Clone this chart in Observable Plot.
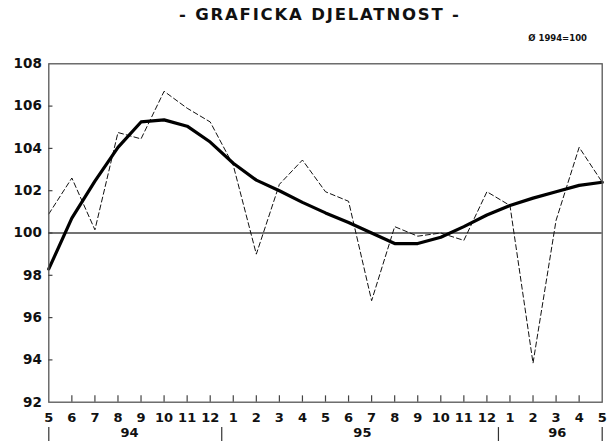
<!DOCTYPE html>
<html><head><meta charset="utf-8">
<script src="https://cdn.jsdelivr.net/npm/d3@7"></script>
<script src="https://cdn.jsdelivr.net/npm/@observablehq/plot@0.6"></script>
<style>
body{margin:0;background:#fff;}
#wrap{width:610px;font-family:"DejaVu Sans",sans-serif;color:#111;}
#head{position:relative;height:50px;}
#title{position:absolute;left:179px;top:5px;white-space:nowrap;font-weight:bold;font-size:16.5px;letter-spacing:1.8px;}
#sub{position:absolute;right:23px;top:33px;white-space:nowrap;font-weight:bold;font-size:8.5px;}
</style></head>
<body><div id="wrap"><div id="head"><div id="title">- GRAFICKA DJELATNOST -</div><div id="sub">Ø 1994=100</div></div><div id="chart"></div></div>
<script>
const months = ["5","6","7","8","9","10","11","12","1","2","3","4","5","6","7","8","9","10","11","12","1","2","3","4","5"];
const original = [100.9,102.6,100.15,104.75,104.45,106.7,105.9,105.25,103.2,99.0,102.3,103.45,101.95,101.5,96.8,100.3,99.85,100.0,99.65,101.95,101.3,93.85,100.6,104.05,102.4];
const trend = [98.3,100.7,102.45,104.05,105.25,105.35,105.05,104.3,103.3,102.5,102.0,101.45,100.95,100.5,100.0,99.5,99.5,99.8,100.3,100.85,101.3,101.65,101.95,102.25,102.4];
const yTicks = [92,94,96,98,100,102,104,106,108];
const years = ["94","95","96"];
const yearPos = [3.5,13.6,22.05];
const yearSeps = [0,7.5,19.5,24];
const baseLine = [100];

const idx = d3.range(months.length);
const origData = idx.map(i => ({i, v: original[i]}));
const trendData = idx.map(i => ({i, v: trend[i]}));

const chart = Plot.plot({
  width: 610, height: 391,
  marginTop: 13.3, marginBottom: 39.3, marginLeft: 48.3, marginRight: 8.3,
  x: {domain: [0, 24]},
  y: {domain: [92, 108]},
  style: {fontFamily: '"DejaVu Sans", sans-serif', fontSize: "13px", fontWeight: "bold", color: "#111", background: "#fff", overflow: "visible"},
  marks: [
    Plot.ruleY(baseLine, {stroke: "#444", strokeWidth: 1.3}),
    Plot.line(origData, {x: "i", y: "v", stroke: "#111", strokeWidth: 1, strokeDasharray: "5,3"}),
    Plot.line(trendData, {x: "i", y: "v", stroke: "#000", strokeWidth: 3.2, strokeLinejoin: "round"}),
    Plot.frame({stroke: "#555", strokeWidth: 1.3}),
    Plot.ruleY(yTicks.slice(1, -1), {x1: 0, x2: 0.18, stroke: "#444", strokeWidth: 1.2}),
    Plot.ruleX(idx.slice(1, -1), {y1: 92, y2: 92.3, stroke: "#444", strokeWidth: 1.2}),
    Plot.axisY({ticks: yTicks, tickSize: 0, tickPadding: 7, tickFormat: d => String(d), fontSize: 13.5, label: null}),
    Plot.axisX({ticks: idx, tickSize: 0, tickPadding: 11, tickFormat: i => months[i], fontSize: 13, label: null}),
    Plot.ruleX(yearSeps, {y1: 90.8, y2: 90.14, stroke: "#333", strokeWidth: 1.2}),
    Plot.text(years, {x: (d, i) => yearPos[i], frameAnchor: "bottom", dy: 34.3, text: d => d, fontSize: 13})
  ]
});
document.getElementById("chart").appendChild(chart);
</script>
</body></html>
